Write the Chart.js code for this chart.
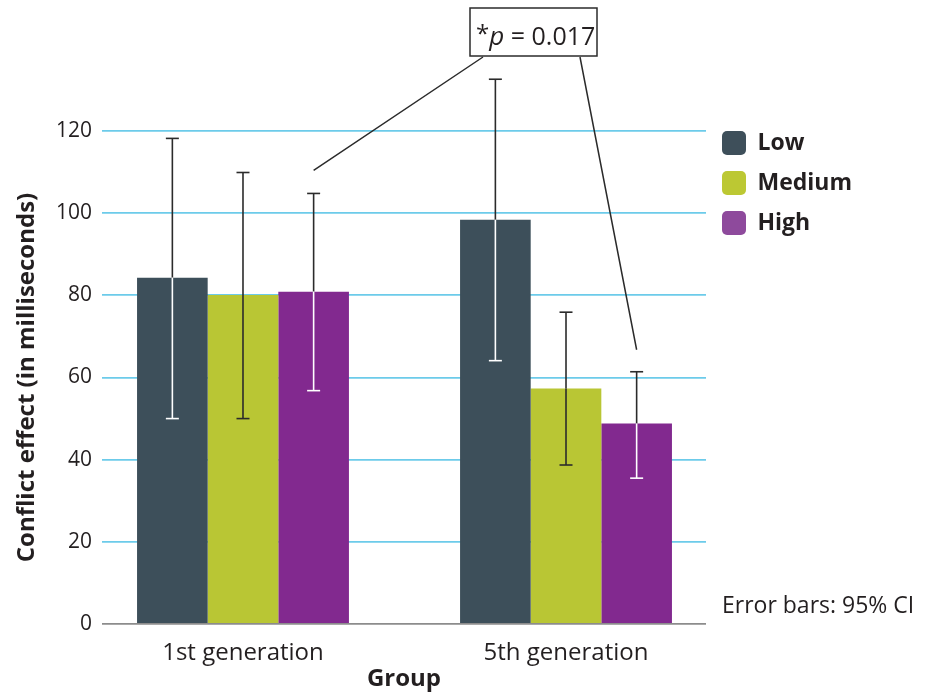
<!DOCTYPE html>
<html>
<head>
<meta charset="utf-8">
<script src="https://cdn.jsdelivr.net/npm/chart.js@4/dist/chart.umd.min.js"></script>
<style>
  html, body { margin: 0; padding: 0; background: #fff; }
</style>
</head>
<body>
<canvas id="conflictChart" width="928" height="695"></canvas>
<script>
const groups = ['1st generation', '5th generation'];
const groupPos = [0, 1];
const seriesNames = ['Low', 'Medium', 'High'];
const lowMeans = [84.3, 98.4];
const mediumMeans = [80.1, 57.3];
const highMeans = [80.9, 48.8];
// 95% CI, [lower, upper] per group
const lowCI = [[50.0, 118.2], [64.1, 132.6]];
const mediumCI = [[50.0, 109.9], [38.7, 75.9]];
const highCI = [[56.8, 104.8], [35.5, 61.4]];
const yTicks = [0, 20, 40, 60, 80, 100, 120];
const pLabel = '0.017';

const colors = ['#3d4f5a', '#b9c634', '#82298f'];
const legendColors = ['#3e4f5a', '#bcc833', '#8e4a9c'];
// error bar colour where it crosses the bar
const innerBarColors = ['#ffffff', '#2b2b2b', '#ffffff'];
const ink = '#231f20';
const font = 'Open Sans';

const ciSets = [lowCI, mediumCI, highCI];

const errorBars = {
    id: 'errorBars',
    afterDatasetsDraw(chart) {
        const ctx = chart.ctx;
        const y = chart.scales.y;
        ctx.save();
        ctx.lineWidth = 1.6;
        chart.data.datasets.forEach((ds, di) => {
            const inner = innerBarColors[di];
            chart.getDatasetMeta(di).data.forEach((bar, i) => {
                const lo = y.getPixelForValue(ciSets[di][i][0]);
                const hi = y.getPixelForValue(ciSets[di][i][1]);
                const x = bar.x;
                const top = bar.y;
                if (hi < top) {
                    ctx.strokeStyle = '#2b2b2b';
                    ctx.beginPath();
                    ctx.moveTo(x, hi);
                    ctx.lineTo(x, Math.min(top, lo));
                    ctx.stroke();
                }
                if (lo > top) {
                    ctx.strokeStyle = inner;
                    ctx.beginPath();
                    ctx.moveTo(x, Math.max(top, hi));
                    ctx.lineTo(x, lo);
                    ctx.stroke();
                }
                [hi, lo].forEach(v => {
                    ctx.strokeStyle = v < top ? '#2b2b2b' : inner;
                    ctx.beginPath();
                    ctx.moveTo(x - 6.5, v);
                    ctx.lineTo(x + 6.5, v);
                    ctx.stroke();
                });
            });
        });
        ctx.restore();
    }
};

const annotation = {
    id: 'annotation',
    afterDraw(chart) {
        const ctx = chart.ctx;
        const y = chart.scales.y;
        const meta = chart.getDatasetMeta(2);
        const b1 = meta.data[0], b2 = meta.data[1];
        ctx.save();
        ctx.strokeStyle = '#2b2b2b';
        ctx.lineWidth = 1.5;
        ctx.beginPath();
        ctx.moveTo(483, 57);
        ctx.lineTo(b1.x, y.getPixelForValue(highCI[0][1]) - 23);
        ctx.moveTo(580, 57);
        ctx.lineTo(b2.x, y.getPixelForValue(highCI[1][1]) - 22);
        ctx.stroke();

        ctx.fillStyle = '#fff';
        ctx.fillRect(470, 8, 127, 48);
        ctx.strokeRect(470, 8, 127, 48);

        ctx.fillStyle = ink;
        ctx.textBaseline = 'alphabetic';
        ctx.textAlign = 'left';
        let x = 476;
        ctx.font = `24px "${font}"`;
        ctx.fillText('*', x, 42);
        x += ctx.measureText('*').width;
        ctx.font = `italic 26px "${font}"`;
        ctx.fillText('p', x, 45);
        x += ctx.measureText('p').width;
        ctx.font = `25px "${font}"`;
        ctx.fillText(' = ' + pLabel, x, 45);

        ctx.font = `23px "${font}"`;
        ctx.textBaseline = 'middle';
        ctx.fillText('Error bars: 95% CI', 722, 606);
        ctx.restore();
    }
};

const legendWidth = {
    id: 'legendWidth',
    beforeInit(chart) {
        const fit = chart.legend.fit;
        chart.legend.fit = function () {
            fit.call(this);
            this.width = 222;
        };
    }
};

const noPad = (scale, top) => {
    scale.paddingTop = top || 0;
    scale.paddingBottom = 0;
    scale.paddingLeft = 0;
    scale.paddingRight = 0;
};

new Chart(document.getElementById('conflictChart').getContext('2d'), {
    type: 'bar',
    data: {
        labels: groupPos,
        datasets: [
            { label: seriesNames[0], data: lowMeans, backgroundColor: colors[0] },
            { label: seriesNames[1], data: mediumMeans, backgroundColor: colors[1] },
            { label: seriesNames[2], data: highMeans, backgroundColor: colors[2] }
        ]
    },
    options: {
        responsive: false,
        animation: false,
        categoryPercentage: 0.656,
        barPercentage: 1,
        layout: { padding: { top: 0, left: 13, right: 0, bottom: 0 } },
        scales: {
            x: {
                type: 'linear',
                offset: false,
                min: -0.4365,
                max: 1.4334,
                afterBuildTicks: scale => { scale.ticks = groupPos.map(v => ({ value: v })); },
                afterFit: scale => { scale.height = 71; noPad(scale); },
                grid: { display: false },
                border: { display: false },
                ticks: {
                    callback: v => groups[groupPos.indexOf(v)],
                    color: ink,
                    font: { family: font, size: 24 },
                    padding: 7,
                    maxRotation: 0,
                    autoSkip: false
                },
                title: {
                    display: true,
                    text: 'Group',
                    color: ink,
                    font: { family: font, size: 24, weight: 'bold' },
                    padding: { top: 2, bottom: 1 }
                }
            },
            y: {
                min: 0,
                max: 120,
                afterBuildTicks: scale => { scale.ticks = yTicks.map(v => ({ value: v })); },
                afterFit: scale => { scale.width = 89; noPad(scale, 131); },
                grid: {
                    color: c => c.tick && c.tick.value === 0 ? '#8c8c8c' : '#6ccbea',
                    lineWidth: 1.8,
                    drawTicks: false
                },
                border: { display: false },
                ticks: {
                    color: ink,
                    font: { family: font, size: 21 },
                    padding: 10
                },
                title: {
                    display: true,
                    text: 'Conflict effect (in milliseconds)',
                    color: ink,
                    font: { family: font, size: 24, weight: 'bold' },
                    padding: { top: 0, bottom: 10 }
                }
            }
        },
        plugins: {
            legend: {
                position: 'right',
                align: 'start',
                title: { display: true, text: ' ', font: { size: 10, lineHeight: 1 }, padding: { top: 105, bottom: 0 } },
                labels: {
                    boxWidth: 24,
                    boxHeight: 24,
                    useBorderRadius: true,
                    borderRadius: 5,
                    padding: 16,
                    color: ink,
                    font: { family: font, size: 23, weight: 'bold' },
                    generateLabels: chart => Chart.defaults.plugins.legend.labels.generateLabels(chart)
                        .map((item, i) => Object.assign(item, { fillStyle: legendColors[i], strokeStyle: legendColors[i] }))
                }
            },
            tooltip: { enabled: false }
        }
    },
    plugins: [legendWidth, errorBars, annotation]
});
</script>
</body>
</html>
